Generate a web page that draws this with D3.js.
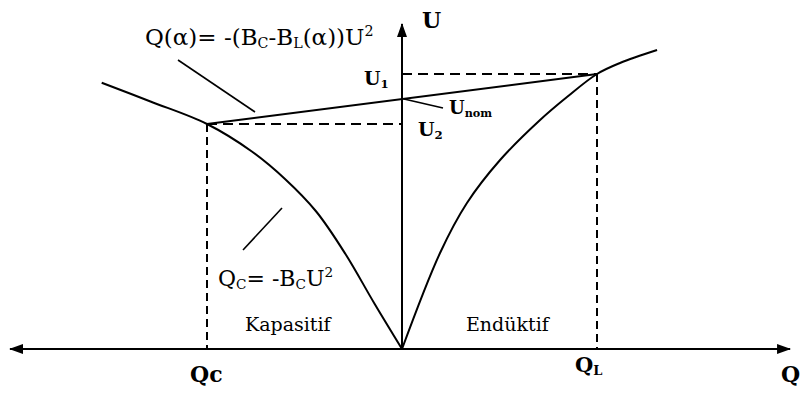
<!DOCTYPE html>
<html>
<head>
<meta charset="utf-8">
<script src="https://cdn.jsdelivr.net/npm/d3@7"></script>
<style>
  html, body { margin: 0; padding: 0; background: #fff; }
  svg { display: block; }
</style>
</head>
<body>
<svg id="chart" width="802" height="394"></svg>
<script>
// Reactive power Q (horizontal) vs. voltage U (vertical), per-unit.
const qAxisExtent = [-2.01, 1.99];
const uAxisExtent = [0, 1.3];

// Operating levels
const U1 = 1.1, Unom = 1.0, U2 = 0.9;
const Qc = -1.0, QL = 1.0;

// Capacitor characteristic  Q_C = -B_C U^2  (Q, U)
const capacitiveCurve = [
  [0, 0], [-0.14, 0.18], [-0.29, 0.38], [-0.44, 0.55], [-0.60, 0.68],
  [-0.77, 0.79], [-1.0, 0.9], [-1.29, 0.99], [-1.54, 1.065]
];
// Reactor characteristic (full inductive)  (Q, U)
const inductiveCurve = [
  [0, 0], [0.195, 0.384], [0.333, 0.584], [0.503, 0.756], [0.708, 0.916],
  [0.846, 1.008], [1.0, 1.1], [1.118, 1.144], [1.308, 1.196]
];
// SVC control characteristic Q(α)
const controlLine = [[Qc, U2], [QL, U1]];

const FONT = "DejaVu Serif";

const svg = d3.select("#chart");
svg.append("rect").attr("width", 802).attr("height", 394).attr("fill", "#fff");

const x = d3.scaleLinear().domain([-2, 2]).range([12, 792]);
const y = d3.scaleLinear().domain([0, 1]).range([349, 99]);

const line = d3.line().x(d => x(d[0])).y(d => y(d[1]));
const curve = d3.line().x(d => x(d[0])).y(d => y(d[1])).curve(d3.curveCatmullRom.alpha(0.5));

// Arrow heads
const defs = svg.append("defs");
defs.append("marker")
  .attr("id", "arrow").attr("viewBox", "0 0 14 10")
  .attr("refX", 13).attr("refY", 5)
  .attr("markerWidth", 14).attr("markerHeight", 10)
  .attr("markerUnits", "userSpaceOnUse")
  .attr("orient", "auto-start-reverse")
  .append("path").attr("d", "M0,0 L14,5 L0,10 Z").attr("fill", "#000");

// Axes
svg.append("line")
  .attr("x1", x(qAxisExtent[0])).attr("x2", x(qAxisExtent[1]))
  .attr("y1", y(0)).attr("y2", y(0))
  .attr("stroke", "#000").attr("stroke-width", 2)
  .attr("marker-start", "url(#arrow)").attr("marker-end", "url(#arrow)");
svg.append("line")
  .attr("x1", x(0)).attr("x2", x(0))
  .attr("y1", y(uAxisExtent[0])).attr("y2", y(uAxisExtent[1]))
  .attr("stroke", "#000").attr("stroke-width", 2)
  .attr("marker-end", "url(#arrow)");

// Dashed guides
const dashed = svg.append("g").attr("stroke", "#000").attr("stroke-width", 2).attr("fill", "none");
dashed.append("path").attr("d", line([[0, U1], [QL, U1]])).attr("stroke-dasharray", "10,6");
dashed.append("path").attr("d", line([[Qc, U2], [0, U2]])).attr("stroke-dasharray", "10,6");
dashed.append("path").attr("d", line([[Qc, U2], [Qc, 0]])).attr("stroke-dasharray", "8,5");
dashed.append("path").attr("d", line([[QL, U1], [QL, 0]])).attr("stroke-dasharray", "8,5");

// Characteristics
const marks = svg.append("g").attr("stroke", "#000").attr("stroke-width", 2).attr("fill", "none");
marks.append("path").attr("d", curve(capacitiveCurve));
marks.append("path").attr("d", curve(inductiveCurve));
marks.append("path").attr("d", line(controlLine));

// Leader lines
const leaders = svg.append("g").attr("stroke", "#000").attr("stroke-width", 1.6);
leaders.append("line").attr("x1", 178).attr("y1", 60).attr("x2", 255).attr("y2", 112);
leaders.append("line").attr("x1", x(0) + 2).attr("y1", y(Unom)).attr("x2", 443).attr("y2", 108);
leaders.append("line").attr("x1", 243).attr("y1", 250).attr("x2", 282).attr("y2", 208);

// Labels with sub/superscripts
function label(px, py, parts, size, weight) {
  const t = svg.append("text").attr("x", px).attr("y", py)
    .attr("font-family", FONT).attr("fill", "#000")
    .attr("font-size", size).attr("font-weight", weight || "normal");
  parts.forEach(p => {
    const s = t.append("tspan").text(p.t);
    if (p.sub) s.attr("font-size", size * 0.62).attr("dy", 3);
    if (p.sup) s.attr("font-size", size * 0.62).attr("dy", -9);
    if (p.reset) s.attr("dy", p.reset);
  });
  return t;
}

label(145, 45, [
  {t: "Q(α)= -(B"}, {t: "C", sub: true}, {t: "-B", reset: -3}, {t: "L", sub: true},
  {t: "(α))U", reset: -3}, {t: "2", sup: true}
], 23);

label(x(0) + 20, 28, [{t: "U"}], 22, "bold");
label(x(0) - 38, y(U1) + 11, [{t: "U"}, {t: "1", sub: true}], 19, "bold");
label(449, 114, [{t: "U"}, {t: "nom", sub: true}], 18, "bold");
label(x(0) + 16, y(U2) + 12, [{t: "U"}, {t: "2", sub: true}], 19, "bold");

label(218, 286, [
  {t: "Q"}, {t: "C", sub: true}, {t: "= -B", reset: -3}, {t: "C", sub: true},
  {t: "U", reset: -3}, {t: "2", sup: true}
], 22);

label(245, 331, [{t: "Kapasitif"}], 19);
label(466, 331, [{t: "Endüktif"}], 19);

label(190, 382, [{t: "Qc"}], 22, "bold");
label(575, 372, [{t: "Q"}, {t: "L", sub: true}], 21, "bold");
label(781, 382, [{t: "Q"}], 22, "bold");
</script>
</body>
</html>
